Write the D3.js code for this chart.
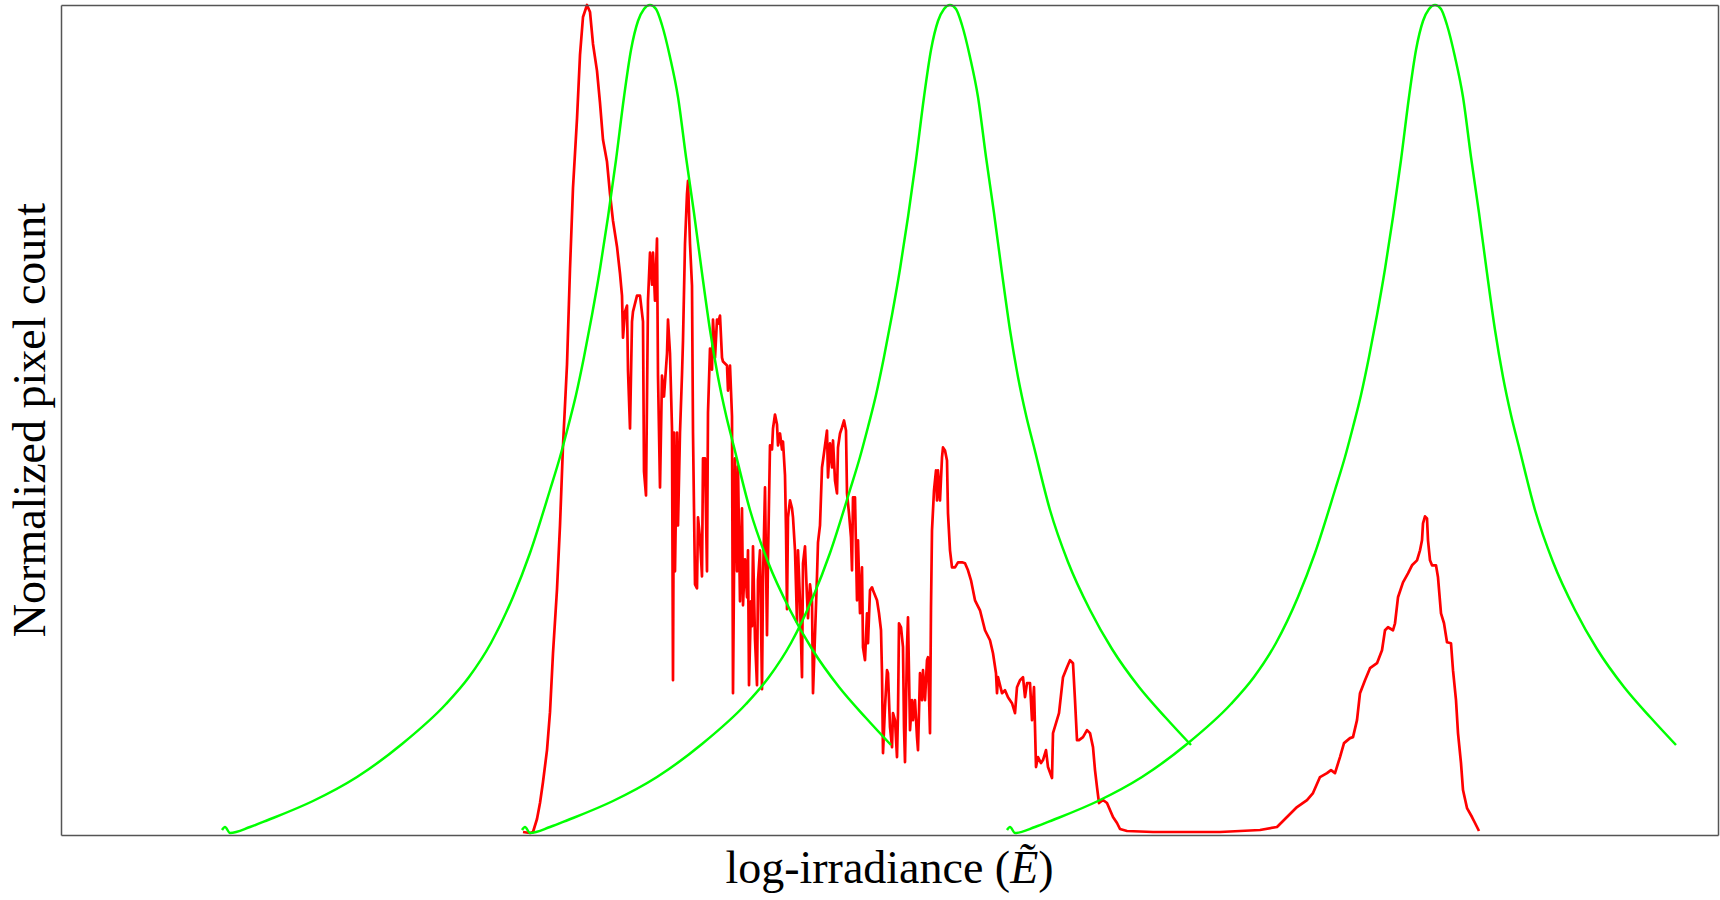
<!DOCTYPE html>
<html>
<head>
<meta charset="utf-8">
<script src="https://cdn.jsdelivr.net/npm/d3@7"></script>
<style>
  body { margin: 0; background: #fff; }
  text { font-family: "Liberation Serif", "DejaVu Serif", serif; fill: #000; }
</style>
</head>
<body>
<div id="chart"></div>
<script>

// histogram of the image: [log-irradiance, pixel count]
var histogram = [
  [4.62,3],[4.69,2],[4.72,3],[4.76,16],[4.79,32],[4.82,53],[4.86,85],[4.89,123],[4.92,182],[4.96,246],
  [4.99,310],[5.02,390],[5.06,471],[5.09,567],[5.12,648],[5.16,717],[5.19,781],[5.22,819],[5.26,831],[5.29,824],
  [5.32,792],[5.36,765],[5.39,733],[5.42,696],[5.46,674],[5.49,642],[5.52,615],[5.56,589],[5.59,562],[5.61,540],
  [5.62,498],[5.64,524],[5.66,530],[5.67,465],[5.69,407],[5.71,514],[5.72,524],[5.76,540],[5.79,540],[5.82,514],
  [5.83,364],[5.85,340],[5.87,535],[5.89,583],[5.91,551],[5.92,583],[5.94,535],[5.96,597],[5.97,460],[5.99,348],
  [6.01,460],[6.03,439],[6.06,482],[6.07,516],[6.09,482],[6.11,407],[6.12,155],[6.13,403],[6.14,264],[6.16,403],
  [6.17,310],[6.19,403],[6.21,461],[6.22,495],[6.24,592],[6.26,642],[6.27,655],[6.29,592],[6.31,550],[6.32,403],
  [6.34,251],[6.36,247],[6.37,318],[6.39,297],[6.41,259],[6.42,377],[6.44,377],[6.46,264],[6.47,423],[6.49,487],
  [6.51,466],[6.52,516],[6.54,478],[6.56,516],[6.57,512],[6.59,520],[6.61,478],[6.62,474],[6.66,470],[6.67,445],
  [6.69,470],[6.71,419],[6.72,142],[6.74,377],[6.76,264],[6.77,369],[6.79,234],[6.81,327],[6.82,230],[6.84,276],
  [6.86,238],[6.87,285],[6.88,150],[6.90,234],[6.91,209],[6.92,289],[6.94,196],[6.96,150],[6.97,255],[6.99,285],
  [7.01,146],[7.02,255],[7.04,348],[7.06,200],[7.07,276],[7.09,390],[7.11,386],[7.12,407],[7.14,421],[7.16,411],
  [7.17,390],[7.19,402],[7.21,386],[7.22,394],[7.24,360],[7.25,306],[7.26,226],[7.27,318],[7.29,335],[7.31,327],
  [7.32,318],[7.34,285],[7.36,213],[7.37,285],[7.39,234],[7.41,158],[7.42,272],[7.44,289],[7.46,238],[7.47,217],
  [7.49,251],[7.51,234],[7.52,142],[7.54,200],[7.56,259],[7.57,293],[7.59,310],[7.61,368],[7.62,375],[7.66,405],
  [7.67,358],[7.69,392],[7.71,368],[7.72,395],[7.74,355],[7.76,342],[7.77,388],[7.79,402],[7.81,408],[7.83,415],
  [7.85,405],[7.86,342],[7.88,322],[7.90,298],[7.91,265],[7.92,338],[7.94,338],[7.96,235],[7.97,295],[7.99,222],
  [8.01,268],[8.02,188],[8.04,175],[8.06,222],[8.07,192],[8.09,245],[8.11,248],[8.12,245],[8.16,235],[8.18,222],
  [8.20,205],[8.21,162],[8.22,82],[8.24,128],[8.26,165],[8.27,162],[8.29,108],[8.31,88],[8.32,122],[8.34,115],
  [8.36,78],[8.37,122],[8.38,212],[8.40,208],[8.42,188],[8.43,108],[8.44,73],[8.46,188],[8.47,218],[8.49,105],
  [8.51,135],[8.52,115],[8.54,135],[8.56,98],[8.57,85],[8.59,162],[8.61,135],[8.62,165],[8.64,135],[8.66,175],
  [8.67,178],[8.69,102],[8.70,228],[8.71,305],[8.73,345],[8.75,365],[8.76,335],[8.77,365],[8.79,335],[8.81,378],
  [8.82,388],[8.84,385],[8.86,375],[8.87,322],[8.89,285],[8.91,268],[8.94,268],[8.97,273],[9.01,273],[9.04,272],
  [9.07,265],[9.10,255],[9.14,235],[9.19,225],[9.24,205],[9.29,195],[9.32,182],[9.35,162],[9.36,142],[9.37,158],
  [9.41,142],[9.44,145],[9.47,138],[9.51,132],[9.54,122],[9.56,148],[9.59,155],[9.62,158],[9.64,138],[9.66,152],
  [9.69,152],[9.71,115],[9.73,148],[9.75,68],[9.77,78],[9.80,72],[9.82,75],[9.85,85],[9.87,68],[9.91,57],
  [9.92,102],[9.95,112],[9.98,122],[10.02,158],[10.06,168],[10.09,175],[10.12,172],[10.14,135],[10.16,95],[10.18,95],
  [10.22,98],[10.26,105],[10.29,102],[10.32,88],[10.34,65],[10.36,48],[10.38,32],[10.42,35],[10.46,32],[10.49,25],
  [10.52,18],[10.56,12],[10.59,6],[10.66,4],[10.92,3],[11.26,3],[11.59,3],[11.79,4],[11.99,5],[12.16,8],
  [12.26,18],[12.36,28],[12.46,35],[12.52,42],[12.59,58],[12.66,62],[12.70,65],[12.74,62],[12.79,78],[12.83,92],
  [12.89,97],[12.92,98],[12.96,115],[12.99,142],[13.04,155],[13.09,167],[13.16,172],[13.21,185],[13.24,205],[13.27,208],
  [13.32,205],[13.34,212],[13.37,238],[13.42,253],[13.47,262],[13.51,270],[13.56,275],[13.59,285],[13.61,295],[13.62,312],
  [13.64,319],[13.66,317],[13.67,295],[13.69,275],[13.71,270],[13.75,270],[13.77,258],[13.80,222],[13.83,212],[13.86,193],
  [13.90,192],[13.92,165],[13.95,135],[13.97,102],[14.00,72],[14.02,45],[14.06,27],[14.11,18],[14.14,12],[14.18,4]
];

// weighting function of one exposure: [offset from centre, weight]
var weightShape = [
  [-4.28,5],[-4.25,8],[-4.20,2],[-4.00,8],[-3.82,15],[-3.37,34],[-2.93,58],[-2.48,91],[-2.04,131],[-1.81,158],
  [-1.59,192],[-1.37,238],[-1.20,282],[-1.00,345],[-0.90,378],[-0.82,408],[-0.74,440],[-0.66,478],[-0.58,520],[-0.50,566],
  [-0.42,618],[-0.34,675],[-0.26,738],[-0.19,785],[-0.12,814],[-0.06,826],[0,830],[0.06,826],[0.12,810],[0.20,778],
  [0.28,738],[0.36,678],[0.44,622],[0.52,562],[0.60,505],[0.68,458],[0.76,420],[0.84,388],[1.00,325],[1.18,273],
  [1.40,225],[1.62,186],[1.89,148],[2.16,117],[2.41,90]
];

// centre of each exposure on the log-irradiance axis
var exposureCentres = [5.89, 8.89, 13.74];

var xDomain = [0, 16.57];


var width = 1720, height = 900;
var margin = {top: 5, right: 2, bottom: 65, left: 61};
var innerW = width - margin.left - margin.right,
    innerH = height - margin.top - margin.bottom;

var svg = d3.select("#chart")
    .append("svg")
    .attr("width", width)
    .attr("height", height);

var g = svg.append("g")
    .attr("transform", "translate(" + margin.left + "," + margin.top + ")");

var xScale = d3.scaleLinear().domain(xDomain).range([0, innerW]);
var yScale = d3.scaleLinear().domain([0, 1]).range([innerH, 0]);

// normalise counts and weights to their maximum
var histMax = d3.max(histogram, function(d){ return d[1] });
var shapeMax = d3.max(weightShape, function(d){ return d[1] });

var line = d3.line()
    .x(function(d){ return xScale(d[0]) })
    .y(function(d){ return yScale(d[1]) });

var smoothLine = d3.line()
    .curve(d3.curveMonotoneX)
    .x(function(d){ return xScale(d[0]) })
    .y(function(d){ return yScale(d[1]) });

//red histogram
g.append("path")
    .datum(histogram.map(function(d){ return [d[0], d[1] / histMax] }))
    .attr("d", line)
    .attr("fill", "none")
    .attr("stroke", "#ff0000")
    .attr("stroke-width", 2.7)
    .attr("stroke-linejoin", "round");

//green weighting curves
g.selectAll("path.weight")
    .data(exposureCentres)
    .enter()
    .append("path")
    .attr("class", "weight")
    .attr("d", function(c){
        return smoothLine(weightShape.map(function(d){ return [c + d[0], d[1] / shapeMax] }))
    })
    .attr("fill", "none")
    .attr("stroke", "#00ff00")
    .attr("stroke-width", 2.5)
    .attr("stroke-linejoin", "round");

//frame: axes without ticks on all four sides
var frame = [
    [d3.axisBottom(xScale), "translate(0," + innerH + ")"],
    [d3.axisTop(xScale), "translate(0,0)"],
    [d3.axisLeft(yScale), "translate(0,0)"],
    [d3.axisRight(yScale), "translate(" + innerW + ",0)"]
];
frame.forEach(function(f){
    g.append("g")
        .attr("transform", f[1])
        .call(f[0].tickValues([]).tickSizeOuter(0))
        .select(".domain")
        .attr("stroke", "#555")
        .attr("stroke-width", 1.5);
});

//axis labels
svg.append("text")
    .attr("x", margin.left + innerW / 2)
    .attr("y", 883)
    .attr("text-anchor", "middle")
    .style("font-size", "46px")
    .html('log-irradiance (<tspan font-style="italic">Ẽ</tspan>)');

svg.append("text")
    .attr("transform", "translate(45," + (margin.top + innerH / 2) + ") rotate(-90)")
    .attr("text-anchor", "middle")
    .style("font-size", "46px")
    .text("Normalized pixel count");

</script>
</body>
</html>
